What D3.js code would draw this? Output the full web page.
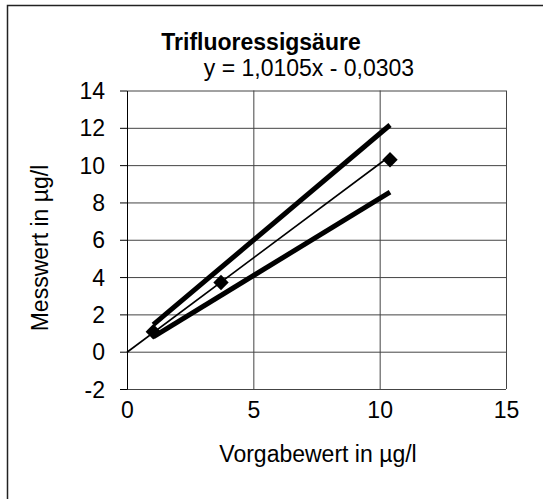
<!DOCTYPE html>
<html><head><meta charset="utf-8">
<script src="https://cdn.jsdelivr.net/npm/d3@7"></script>
<style>body{margin:0;background:#fff}svg{display:block}text{font-family:"Liberation Sans",Arial,sans-serif;fill:#000}</style>
</head><body>
<script>
const title = "Trifluoressigsäure";
const equation = "y = 1,0105x - 0,0303";
const xLabel = "Vorgabewert in µg/l";
const yLabel = "Messwert in µg/l";
const xTicks = [0, 5, 10, 15];
const yTicks = [-2, 0, 2, 4, 6, 8, 10, 12, 14];
const pointsX = [1.04, 3.72, 10.41];
const pointsY = [1.07, 3.71, 10.29];
const slope = 1.0105, intercept = -0.0303;
const regX = [0, 10.41];
const upperX = [1.04, 10.41], upperY = [1.45, 12.15];
const lowerX = [1.04, 10.41], lowerY = [0.8, 8.55];

const W = 543, H = 499;
const svg = d3.select("body").append("svg").attr("width", W).attr("height", H);
svg.append("rect").attr("width", W).attr("height", H).attr("fill", "#fff");
svg.append("path").attr("d", `M7.5,${H} V5.5 H${W}`).attr("fill","none").attr("stroke","#222").attr("stroke-width",1.5);

const x = d3.scaleLinear().domain([0, 15]).range([127, 506]);
const y = d3.scaleLinear().domain([-2, 14]).range([389, 90.5]);
const FS = 23;

const g = svg.append("g");
g.append("g").call(d3.axisLeft(y).tickValues(yTicks).tickSize(-(x(15)-x(0))).tickFormat(""))
  .attr("transform", `translate(${x(0)},0)`)
  .call(s => s.select(".domain").remove())
  .call(s => s.selectAll("line").attr("stroke", "#444").attr("stroke-width", 1));
g.append("g").call(d3.axisBottom(x).tickValues(xTicks.slice(1)).tickSize(-(y(-2)-y(14))).tickFormat(""))
  .attr("transform", `translate(0,${y(-2)})`)
  .call(s => s.select(".domain").remove())
  .call(s => s.selectAll("line").attr("stroke", "#444").attr("stroke-width", 1));

const ya = g.append("g").attr("transform", `translate(${x(0)},0)`)
  .call(d3.axisLeft(y).tickValues(yTicks).tickSize(7).tickPadding(15).tickSizeOuter(0)
    .tickFormat(d => d < 0 ? "-" + Math.abs(d) : d));
ya.select(".domain").attr("stroke", "#000");
ya.selectAll("line").attr("stroke", "#000");
ya.selectAll("text").attr("font-size", FS).attr("font-family", '"Liberation Sans",Arial,sans-serif').attr("dy", "0.35em");

g.append("g").attr("transform", `translate(0,${y(-2)})`)
  .call(d3.axisBottom(x).tickValues(xTicks).tickSize(0).tickPadding(0))
  .call(s => s.select(".domain").remove())
  .call(s => s.selectAll("text").attr("font-size", FS).attr("font-family", '"Liberation Sans",Arial,sans-serif').attr("dy", null).attr("y", 29));

const line = d3.line().x(d => x(d[0])).y(d => y(d[1]));
g.append("path").attr("d", line(d3.zip(upperX, upperY))).attr("stroke", "#000").attr("stroke-width", 5).attr("fill", "none");
g.append("path").attr("d", line(d3.zip(lowerX, lowerY))).attr("stroke", "#000").attr("stroke-width", 5).attr("fill", "none");
g.append("path").attr("d", line(regX.map(v => [v, slope * v + intercept]))).attr("stroke", "#000").attr("stroke-width", 1.6).attr("fill", "none");
g.selectAll(".pt").data(d3.zip(pointsX, pointsY)).join("path")
  .attr("d", d3.symbol(d3.symbolDiamond2, 150)())
  .attr("transform", d => `translate(${x(d[0])},${y(d[1])})`).attr("fill", "#000");

svg.append("text").attr("x", 261).attr("y", 50).attr("text-anchor", "middle")
  .attr("font-size", 23).attr("font-weight", "bold").text(title);
svg.append("text").attr("x", 309).attr("y", 76).attr("text-anchor", "middle")
  .attr("font-size", FS).text(equation);
svg.append("text").attr("x", 318).attr("y", 462).attr("text-anchor", "middle")
  .attr("font-size", FS).text(xLabel);
svg.append("text").attr("transform", "translate(48,248) rotate(-90)").attr("text-anchor", "middle")
  .attr("font-size", FS).text(yLabel);
</script>
</body></html>
